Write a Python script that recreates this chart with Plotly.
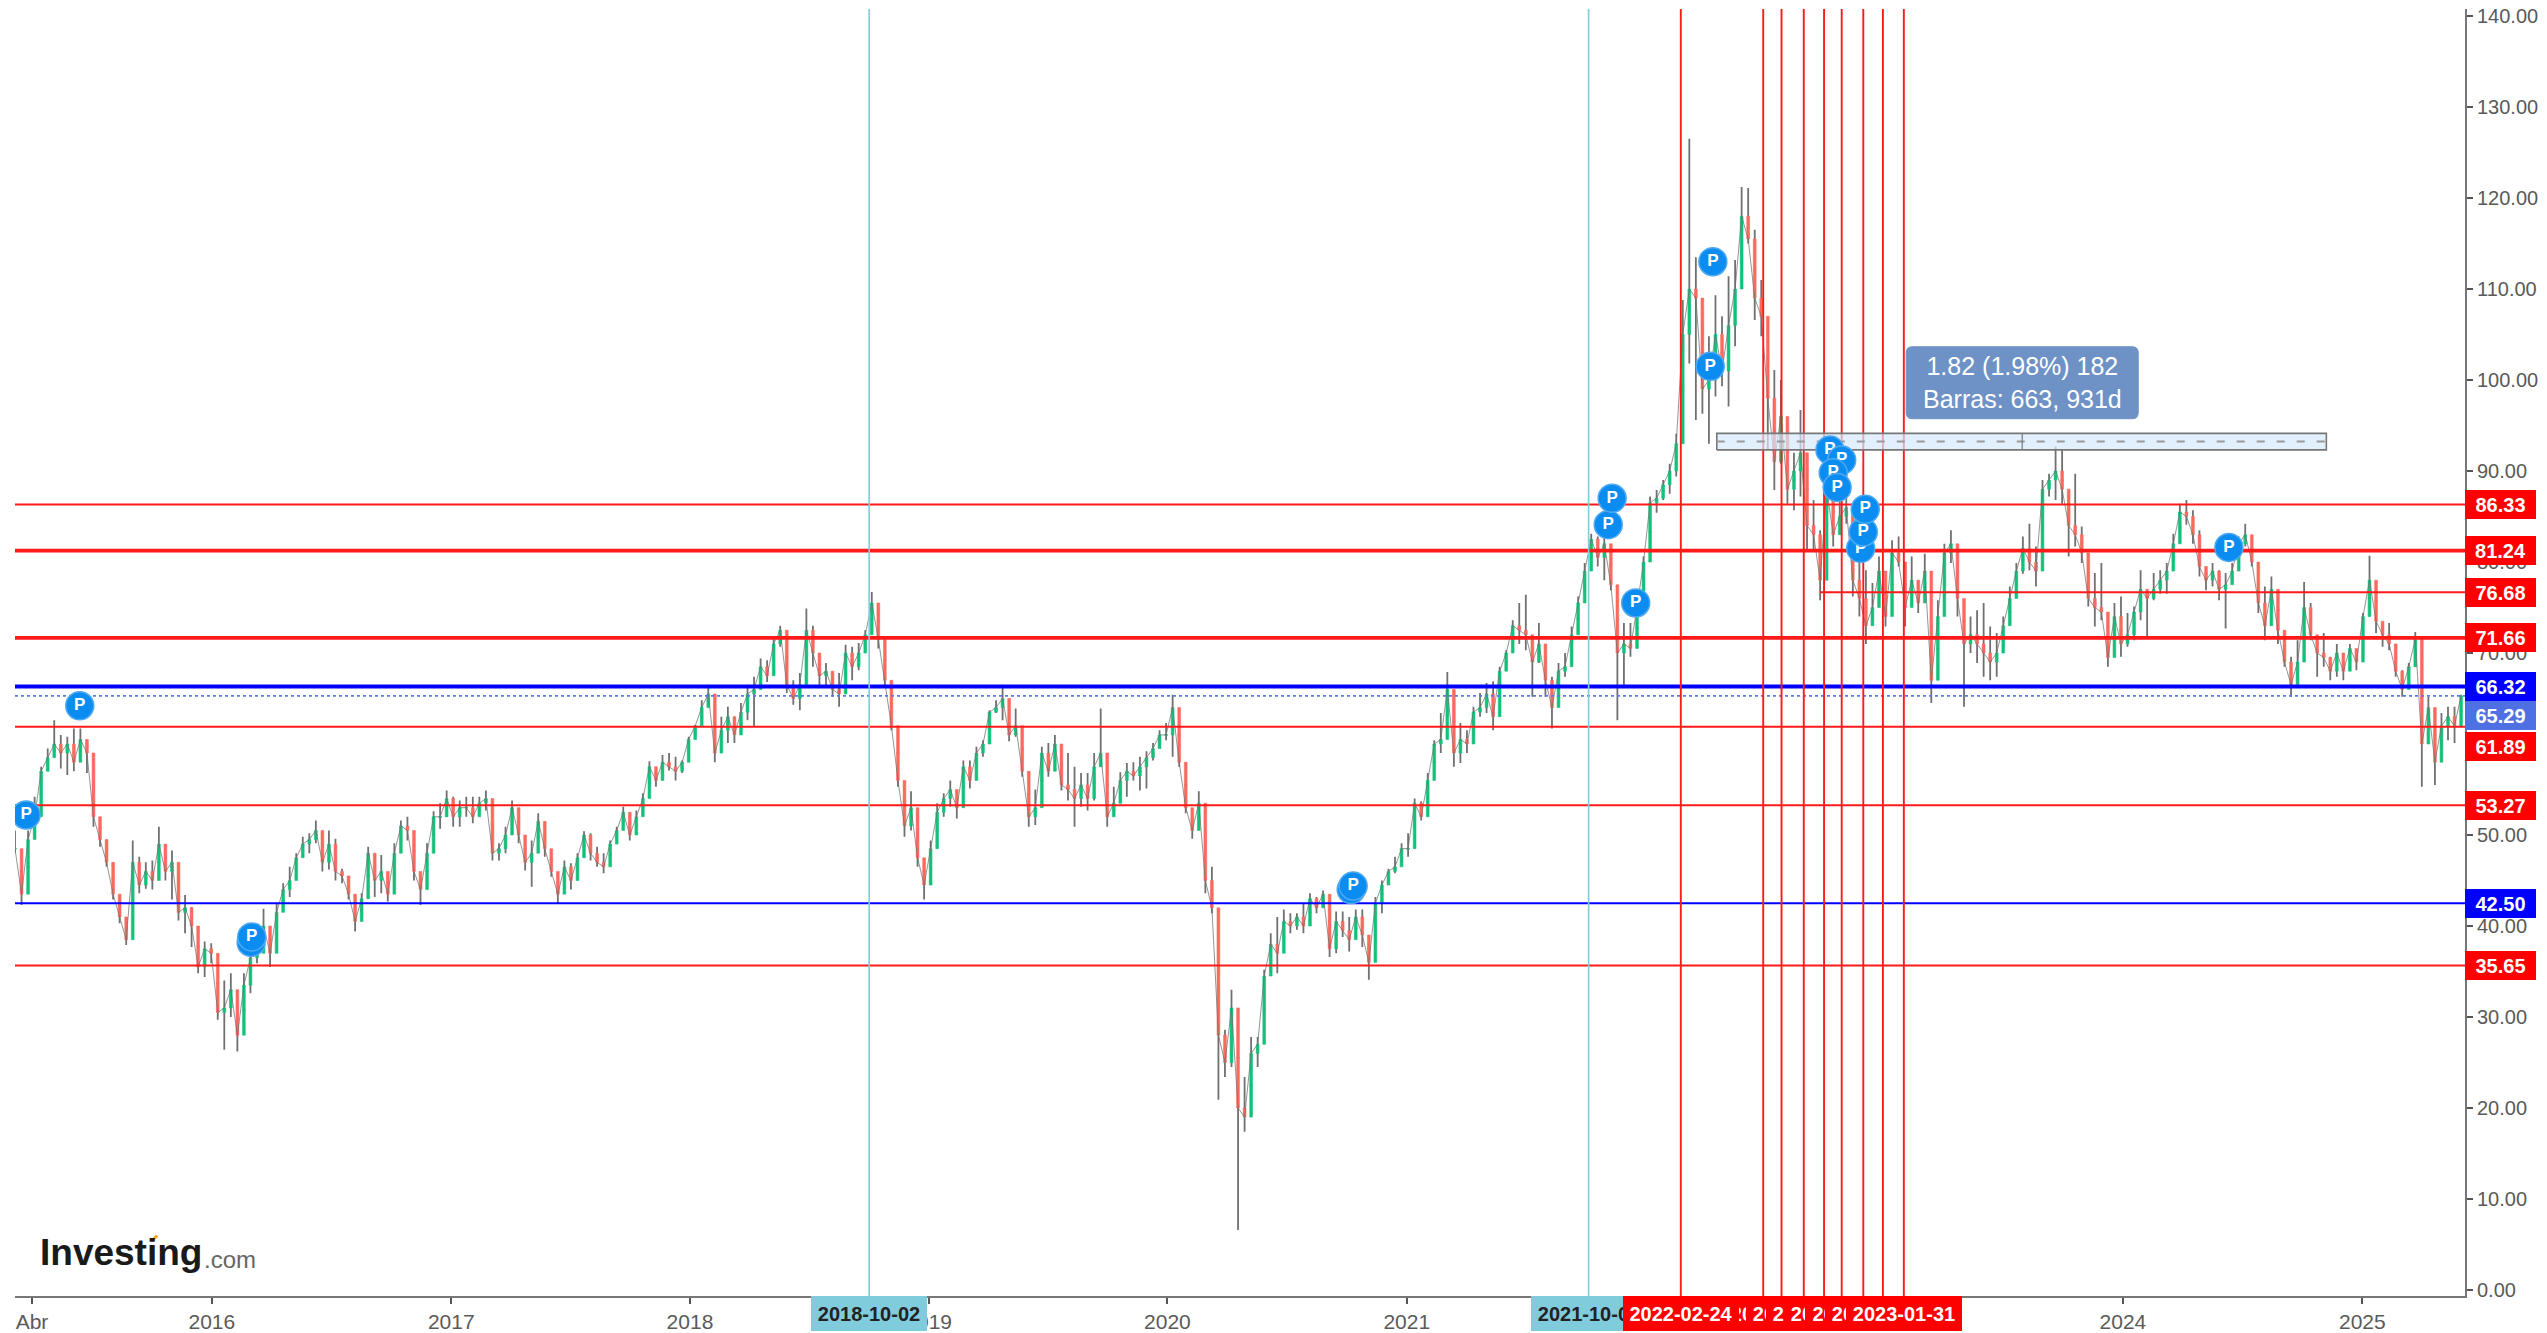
import pandas as pd
import plotly.graph_objects as go

FIRST_BAR = "2015-03-06"
BAR_STEP = "10D"

highs = [
50.5,45.8,50.5,54.2,57.5,59.5,62.6,61,60.8,61.7,61.7,60,53.8,51.3,49.4,45.8,42.9,41,49.4,47.6,47,47.2,50.9,47.2,48.3,45.4,43.4,42.1,38.1,38.3,38.1,33.3,34,34.8,32.2,34.8,37.7,37.7,41.9,38.6,42.5,44.7,46.5,48,49.8,50.2,51.6,49.8,50.5,49.6,46.3,45,42.9,43.6,48.7,46.7,47.8,45,49.1,51.6,52,48.7,45.4,49.1,52.6,
53.5,54.9,54.2,53.8,54.2,54.2,54.2,54.9,50.9,49.1,50.9,53.8,51.3,49.8,49.4,52.4,50.5,47.2,45,47.2,46.9,48,50.4,50.2,48.7,48,49.4,50.9,53.1,51.7,52.7,54.6,58.1,57.1,58.8,59,58.6,58.2,60.8,62.1,64.8,66.5,64.1,63,64.1,63,64.5,66.5,67.4,69.4,69.2,71.8,73,68.1,67,67.8,74.9,73,68.9,68.9,67.8,67.8,70.9,70.7,
71.1,72.5,76.7,74.9,68.1,64.1,58.2,54.2,54.8,52.4,47.3,49.4,53.5,54.6,56,54.2,58.2,58.2,59.7,60.4,63.7,64.8,66.5,63.4,63.9,59.7,54.2,55,59.7,60.1,61,57.5,59,57.5,56.8,56.8,59,63.9,55.3,55.3,56.9,57.9,58,58.6,59.2,60.1,61.5,62.3,65.4,59.7,55,52.4,54.8,49.1,46.5,
36.6,28.6,33,26.7,23.4,27.8,27.8,35.2,39.2,41,41.8,41.4,41.4,42.5,43.6,43.2,43.9,42.1,41.6,41.6,41,41.8,41.8,38.1,43.2,45,
46.3,47.6,49.1,50.2,54,53.7,56.8,60.4,63.4,67.9,62.3,62.3,61.5,64.1,65.6,66.7,66.9,68.5,70.3,73.6,75.5,76.4,71.8,73.3,69.6,67.4,68.9,70,72.9,76.2,79.9,83.1,82.8,83.9,79.9,73.3,73.3,73.3,75.5,80.6,87.2,87.9,89,
90.8,94.1,108.8,126.5,113.5,106.2,104.8,109.3,107,111.4,113.2,121.2,121.1,116.5,111,101.8,101.1,100,94.5,92,96.7,89.4,86.8,83.5,
92,87.9,88.3,89.7,85.3,82.4,79.1,77.7,80.6,78,82.4,82.8,78.4,80.6,78,80.9,72.9,75.8,82,83.5,78.8,74,74,74.7,75.5,72.9,72.2,74,77.3,79.9,82.8,84.2,81.7,89,89.7,92.7,92.3,87.5,89.7,83.9,79.9,78.8,79.9,72.9,75.5,76.2,74.4,75.1,79.1,76.9,78.8,79.1,79.9,83.1,
86.4,86.8,85.7,83.5,79.5,79.9,79.1,78.8,79.9,82.8,84.2,82.4,77.7,77.3,78.4,76.2,71,69.6,71.4,77.8,75.5,71.8,72.2,69.6,71,70,71,70.3,74.4,80.7,76.2,73.3,73.3,70.3,68.1,68.9,72.3,67,65.2,60.1,63.4,64.1,64.1,65.4,
]

lows = [
48,42.3,47.2,50.5,54.6,57.1,58.6,57.3,56.6,57,58.8,56.8,50.9,48.7,46.5,42.9,40.3,37.9,43.6,43.6,44.1,44,46.5,45,42.9,40.6,39.2,37.7,34.8,34.4,35.9,29.7,26.4,30,26.2,28.9,32.6,35.9,38.8,35.5,37.7,42.9,43.2,45.4,48.3,48,49.1,46,46.2,45,44.7,42.9,39.4,41.4,46.9,43.2,43.6,42.7,45,49.1,49.4,45,42.3,45,50.2,
50.7,52,50.9,50.9,52,51.3,52.7,52.7,47.2,47.2,48,50.9,49.1,46.1,44.3,49.1,47.6,45.4,42.5,44,44,45.8,48.7,47.2,46.5,45.8,47.2,49.4,51.3,49.4,50.9,52.4,55.3,55.3,56.8,57.1,56,56.8,58.6,60.8,63,64.5,58,59.7,60.1,60.1,61.2,62.6,61.9,67,66.8,69.2,70.7,65.6,64.3,63.7,68.1,68.5,66.3,66.3,65.2,64.1,67.8,67,
68.1,70.3,72.5,70.5,66.3,61.5,55.3,49.8,50.5,46.5,42.9,44.7,51.3,52,53.1,51.8,55.7,55.1,57.5,58.6,61.9,63.4,62.6,60.3,60.8,56.4,50.9,51.1,56,56.4,57.5,54.9,53.8,50.9,53.1,52.7,53.8,57.5,50.9,52.4,53.5,54.2,56,54.9,55.1,58.2,59.7,60.4,58.6,57.5,52.4,49.6,50.9,43.6,41.4,
20.9,23.4,24.5,6.6,17.4,22.7,24.5,31.5,34.8,34.8,37.7,39.2,39.6,39.2,41.8,41.4,42.1,36.6,37,38.8,37.2,38.8,37.7,34.1,37.7,41.4,
44.5,45.8,46.9,47.6,51.6,51.6,53.8,57.5,59,64.1,57.5,57.9,59,60.8,63,63.4,61.5,66.3,68.1,71,71,70.3,65.2,68.9,65.2,61.7,66.7,67.4,69.6,72.9,76.5,79.9,79.5,78,76.9,62.6,66.3,69.6,70.7,76.9,81.7,85.4,86.8,
87.5,89.4,94.5,101.8,95.6,96.3,93,98.2,99.3,97.1,103.7,112.8,115,106.6,104.8,92.3,87.9,90.8,86.4,85.7,87.2,81.3,81.3,75.8,
80,81.7,83.1,84.2,76.2,74,71,73.6,76.2,72.9,78.7,79.5,72.9,77.3,74.4,76.2,64.5,68.1,79.5,79.9,74,64.1,70,68.9,67.4,67,67.4,70.7,74,76.9,78.7,79.1,77.3,83.5,87.2,86.8,86.4,80.6,81.7,79.9,75.1,72.9,73.6,68.5,71.8,69.6,70.7,71.4,73.6,71.8,75.8,76.5,76.5,80.2,
83.1,84.1,82,78.4,76.9,77.3,75.8,72.7,77.7,79.9,81.7,79.5,74.4,71.4,74.4,71,68.5,65.2,67,71,71.4,67.4,68.5,67,67.4,67,68.9,68.1,71.8,76.2,72.2,70.7,70.3,67.4,65.2,66.7,68.5,55.3,61.5,55.5,60.1,60.4,60.1,61.9,
]

closes = [
48.5,43.5,49.5,52,57,58.5,60,59,60,58,60.5,59,52,49.5,47,43.5,41,38.5,47,44.5,46,45,49,46,47,41.5,42,40,35.5,37.5,37,30.5,31,33,28,33.5,36.5,37,40,37,41.5,44,45,47.5,49,49.5,50.5,47,49,46,45.5,43.5,40.5,43,48,45,46,43.5,48,51,50.5,46,44,48,52,
52,54,52,53,53,52,53.5,54,48,48.5,50,53,50,47,48,51.5,48.5,46,43.5,46.5,45,47.5,50,48,47,46.5,49,50.5,52.5,50,52,54,57.5,56,58,57.5,57,58,60.5,62,64,65.5,59,61.5,63,61,63.5,65.5,66,68.5,67.5,71,72.5,66.5,65,66.5,72.5,70,67.5,68,66,65.5,70,68.5,
70,72,75.5,71.5,67,62,56,51,53,47.5,44.5,48.5,52.5,54,55,53,57.5,56,59,60,63.5,64,65,61,62,57,52,53,59,57,60,55.5,55,54,55.5,54,57.5,59,52,53.5,56,57,56.5,57.5,58.5,59.5,61,61,64,58,53,50.5,53.5,45,42,
28,25,31,20,19,26,27,34.5,38,37,40.5,40,41,40,43,42,43.5,37.5,40.5,39.5,38.5,41,39,36,42.5,44.5,
46,46.5,48.5,48.5,53.5,52,56,60,60.5,66,59,60.5,60,63.5,64,65.5,63,68,70,73,72.5,72,69,71,67,64,68,68.5,72,75.5,79,82.5,80.5,82,77.5,70,71,70.5,75,80,86.5,87,88.5,
90,93,105,110,109,99,100,105,101,106,110,118,115.5,109,107,98,91,96,88,90,92,84,83,78,
88,83,85,86,78,76,73,75,79,74,81,80,75,78,75.5,79,67,74,81,82,76,71,72,71,70,69,70,73,76,79,81.5,80,79,88,89,90,88,84,83,81,76,75,74.5,69.5,74,71,72,74.5,77,76,77,78,79,82,
85.5,85,83,79.5,78,79,77,77.5,79,82,83,80,75.5,73,77,72.5,69,66.5,69,75,72,70,69.5,68,70,68,70.5,69,74,78,73.5,72,71,68,66,68.5,71.5,60,64,58,62,63,62,65.29,
]

bar_dates = pd.date_range(FIRST_BAR, periods=len(closes), freq=BAR_STEP)
assert len(highs) == len(lows) == len(closes), (len(highs), len(lows), len(closes))
opens = [closes[0]] + closes[:-1]

red_levels = [86.33, 81.24, 71.66, 61.89, 53.27, 35.65]
thick_levels = [81.24, 71.66]
blue_levels = [66.32, 42.50]
last_price = 65.29
partial_level = 76.68
partial_start = "2022-09-25"

tick_dates = ["2015-04-01","2016-01-01","2017-01-01","2018-01-01","2019-01-01","2020-01-01","2021-01-01","2022-01-01","2023-01-01","2024-01-01","2025-01-01"]
tick_labels = ["Abr","2016","2017","2018","2019","2020","2021","2022","2023","2024","2025"]
y_ticks = list(range(0, 141, 10))

X_RANGE = ["2015-03-06", "2025-06-07"]
Y_RANGE = [-0.66, 140.77]

cyan_dates = ["2018-10-02", "2021-10-06"]
red_dates = ["2022-02-24","2022-06-30","2022-07-28","2022-08-31","2022-10-01","2022-10-28","2022-11-30","2022-12-30","2023-01-31"]

pin_dates = ["2015-03-23","2015-06-13","2016-03-01","2016-03-02","2020-10-08","2020-10-11","2021-11-05","2021-11-11","2021-12-17","2022-04-10","2022-04-14","2022-10-10","2022-10-28","2022-10-15","2022-10-21","2022-11-26","2022-11-30","2022-12-03","2024-06-11"]
pin_prices = [52.2,64.2,38.2,38.8,44,44.4,84.1,87,75.5,101.5,113,92.3,91.2,89.8,88.2,81.5,83.3,85.8,81.6]

ruler_start, ruler_end = "2022-04-20", "2024-11-07"
ruler_low, ruler_high = 92.32, 94.14
ruler_mid = 93.23
ruler_center = "2023-07-31"
ruler_text = "1.82 (1.98%) 182<br>Barras: 663, 931d"
box_center = "2023-07-31"
box_price = 99.7

FONT = "Liberation Sans"
GREEN, RED, WICK = "#12c27a", "#fb6a5e", "#707070"
GREY_TXT = "#5a5a5a"

fig = go.Figure()

def line_trace(x, y, color, width, dash=None):
    fig.add_trace(go.Scatter(x=x, y=y, mode="lines", line=dict(color=color, width=width, dash=dash),
                             showlegend=False, hoverinfo="skip"))

# wicks (gray) then bodies (coloured)
mids = [(o + c) / 2 for o, c in zip(opens, closes)]
fig.add_trace(go.Candlestick(
    x=bar_dates, open=mids, high=highs, low=lows, close=mids,
    whiskerwidth=0,
    increasing=dict(line=dict(color=WICK, width=1.8), fillcolor=WICK),
    decreasing=dict(line=dict(color=WICK, width=1.8), fillcolor=WICK),
    showlegend=False, hoverinfo="skip"))
fig.add_trace(go.Candlestick(
    x=bar_dates, open=opens, close=closes,
    high=[max(o, c) for o, c in zip(opens, closes)],
    low=[min(o, c) for o, c in zip(opens, closes)],
    whiskerwidth=0,
    increasing=dict(line=dict(color=GREEN, width=0.6), fillcolor=GREEN),
    decreasing=dict(line=dict(color=RED, width=0.6), fillcolor=RED),
    showlegend=False, hoverinfo="skip"))
# thin thread through the closes so the price band reads as continuous
line_trace(bar_dates, closes, "rgba(112,112,112,0.75)", 1)

for v in red_levels:
    line_trace(X_RANGE, [v, v], "#ff1a1a", 3.8 if v in thick_levels else 2)
line_trace([partial_start, X_RANGE[1]], [partial_level, partial_level], "#ff1a1a", 2)
line_trace(X_RANGE, [blue_levels[0]] * 2, "#0000ff", 3.8)
line_trace(X_RANGE, [blue_levels[1]] * 2, "#0000ff", 2)
line_trace(X_RANGE, [last_price] * 2, "#5a78e6", 1.6, "dot")
for d in cyan_dates:
    line_trace([d, d], Y_RANGE, "#7fcbdc", 1.6)
for d in red_dates:
    line_trace([d, d], Y_RANGE, "#ff1a1a", 1.9)

# ruler
fig.add_trace(go.Scatter(x=[ruler_start, ruler_end, ruler_end, ruler_start, ruler_start],
                         y=[ruler_low, ruler_low, ruler_high, ruler_high, ruler_low],
                         mode="lines", fill="toself", fillcolor="rgba(214,232,252,0.7)",
                         line=dict(color="#777777", width=1.6), showlegend=False, hoverinfo="skip"))
line_trace([ruler_start, ruler_end], [ruler_mid] * 2, "#9a9a9a", 2, "8px,12px")
line_trace([ruler_center, ruler_center], [ruler_low, ruler_high], "#777777", 1.2)
fig.add_trace(go.Scatter(x=[ruler_end, ruler_center], y=[ruler_mid, ruler_high], mode="markers",
                         marker=dict(symbol="arrow-open", size=13, angle=[90, 0],
                                     color="rgba(0,0,0,0)", line=dict(color="#666666", width=1.6)),
                         showlegend=False, hoverinfo="skip"))

# P pins, each its own trace so that later ones cover earlier ones
for d, p in zip(pin_dates, pin_prices):
    fig.add_trace(go.Scatter(x=[d], y=[p], mode="markers+text", text=["P"], textposition="middle center",
                             textfont=dict(family=FONT, size=17, color="white", weight="bold"),
                             marker=dict(size=28, color="#0a8cf0", line=dict(color="#4fa9f2", width=1.5)),
                             showlegend=False, hoverinfo="skip"))

shapes = []
# rounded info box
w, h, r = 116, 36, 6
shapes.append(dict(type="path", layer="above", xsizemode="pixel", ysizemode="pixel",
                   xanchor=box_center, yanchor=box_price, xref="x", yref="y",
                   path=(f"M {-w+r} {-h} L {w-r} {-h} Q {w} {-h} {w} {-h+r} L {w} {h-r} Q {w} {h} {w-r} {h} "
                         f"L {-w+r} {h} Q {-w} {h} {-w} {h-r} L {-w} {-h+r} Q {-w} {-h} {-w+r} {-h} Z"),
                   fillcolor="#6e92c6", line=dict(color="#6e92c6", width=1)))
# orange accent on the logo
shapes.append(dict(type="line", xref="paper", yref="paper", x0=0.056, x1=0.058, y0=0.0430, y1=0.0470,
                   line=dict(color="#f5a623", width=3)))

ann = []
def ylabel(v, color, shift=0):
    ann.append(dict(xref="paper", x=1, xanchor="left", yref="y", y=v, yanchor="middle", yshift=shift,
                    text=f"{v:.2f}", showarrow=False, bgcolor=color, width=71, height=29, align="center",
                    borderpad=0, borderwidth=0, font=dict(family=FONT, size=20, color="white", weight="bold")))
for v, c, s in [(86.33, "#ff0000", 0), (81.24, "#ff0000", 0), (76.68, "#ff0000", 0), (71.66, "#ff0000", 0),
                (53.27, "#ff0000", 0), (42.50, "#0000ff", 0), (35.65, "#ff0000", 0),
                (61.89, "#ff0000", -20), (65.29, "#4f70e3", -20), (66.32, "#0000ff", 0)]:
    ylabel(v, c, s)

def xlabel(d, text, bg, color, w=116):
    ann.append(dict(xref="x", x=d, xanchor="center", yref="paper", y=0, yanchor="top",
                    text=text, showarrow=False, bgcolor=bg, width=w, height=35, align="center",
                    borderpad=0, borderwidth=0, font=dict(family=FONT, size=20, color=color, weight="bold")))
for d in cyan_dates:
    xlabel(d, d, "#80ccdd", "#222222")
for d in red_dates[1:-1]:
    xlabel(d, d, "#ff0000", "white")
xlabel(red_dates[0], red_dates[0], "#ff0000", "white")
xlabel(red_dates[-1], red_dates[-1], "#ff0000", "white")

ann.append(dict(xref="x", yref="y", x=box_center, y=box_price, text=ruler_text, showarrow=False,
                align="center", font=dict(family=FONT, size=25, color="white")))
ann.append(dict(xref="paper", yref="paper", x=0.0095, y=0.016, xanchor="left", yanchor="bottom",
                text="<b>Investing</b>", showarrow=False, font=dict(family=FONT, size=37, color="#1a1a1a")))
ann.append(dict(xref="paper", yref="paper", x=0.0765, y=0.016, xanchor="left", yanchor="bottom",
                text=".com", showarrow=False, font=dict(family=FONT, size=24, color="#666666")))

fig.update_layout(
    width=2547, height=1333,
    margin=dict(l=15, r=82, t=9, b=37, autoexpand=False),
    paper_bgcolor="white", plot_bgcolor="white",
    showlegend=False, boxgap=0.4,
    shapes=shapes, annotations=ann,
    xaxis=dict(type="date", range=X_RANGE, rangeslider=dict(visible=False),
               tickmode="array", tickvals=tick_dates, ticktext=tick_labels, showgrid=False, zeroline=False,
               showline=True, linecolor="#777777", linewidth=2, ticks="outside", ticklen=6, tickwidth=1.5,
               tickcolor="#555555", tickfont=dict(family=FONT, size=21, color=GREY_TXT)),
    yaxis=dict(side="right", range=Y_RANGE, tickmode="array", tickvals=y_ticks,
               ticktext=[f"{v:.2f}" for v in y_ticks], showgrid=False, zeroline=False,
               showline=True, linecolor="#777777", linewidth=2, ticks="outside", ticklen=6, tickwidth=1.5,
               tickcolor="#555555", tickfont=dict(family=FONT, size=20, color=GREY_TXT)),
)

fig.write_html("out.html", config=dict(displayModeBar=False),
               post_script="document.body.style.margin='0';document.body.style.overflow='hidden';")
